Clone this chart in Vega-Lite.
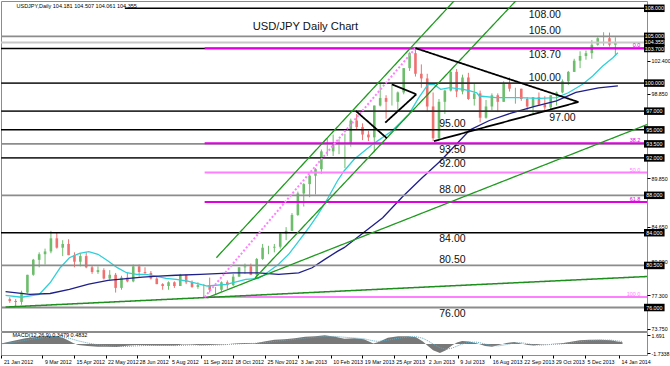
{
"$schema":"https://vega.github.io/schema/vega-lite/v6.json",
"padding":0,
"autosize":{"type":"pad"},
"bounds":"flush",
"background":"#ffffff",
"spacing":1,
"config":{"font":"Liberation Sans","view":{"stroke":"#8c8c8c","strokeWidth":1},"axis":{"grid":false,"labelOverlap":false,"labelFlush":false,"labelFontSize":5.3,"labelColor":"#000000","tickColor":"#000000","tickSize":3,"domain":false,"labelPadding":1}},
"datasets":{
"candles":[
{"d":"2012-01-25","o":76.9,"h":77.1,"l":76.5,"c":76.7},
{"d":"2012-02-01","o":76.7,"h":76.9,"l":76.0,"c":76.6},
{"d":"2012-02-08","o":76.6,"h":77.8,"l":76.3,"c":77.6},
{"d":"2012-02-15","o":77.6,"h":79.5,"l":77.5,"c":79.5},
{"d":"2012-02-22","o":79.5,"h":81.2,"l":79.4,"c":81.1},
{"d":"2012-02-29","o":81.1,"h":81.9,"l":80.3,"c":81.7},
{"d":"2012-03-07","o":81.7,"h":82.3,"l":80.6,"c":82.0},
{"d":"2012-03-14","o":82.0,"h":84.2,"l":81.8,"c":83.4},
{"d":"2012-03-21","o":83.4,"h":84.0,"l":82.3,"c":82.4},
{"d":"2012-03-28","o":82.4,"h":83.2,"l":81.5,"c":82.8},
{"d":"2012-04-04","o":82.8,"h":83.3,"l":81.6,"c":81.6},
{"d":"2012-04-11","o":81.6,"h":81.9,"l":80.3,"c":80.9},
{"d":"2012-04-18","o":80.9,"h":81.8,"l":80.4,"c":81.5},
{"d":"2012-04-25","o":81.5,"h":81.9,"l":80.2,"c":80.3},
{"d":"2012-05-02","o":80.3,"h":80.5,"l":79.6,"c":79.8},
{"d":"2012-05-09","o":79.8,"h":80.4,"l":79.6,"c":80.0},
{"d":"2012-05-16","o":80.0,"h":80.2,"l":79.0,"c":79.1},
{"d":"2012-05-23","o":79.1,"h":80.0,"l":78.9,"c":79.5},
{"d":"2012-05-30","o":79.5,"h":79.7,"l":77.6,"c":78.1},
{"d":"2012-06-06","o":78.1,"h":79.4,"l":77.9,"c":79.2},
{"d":"2012-06-13","o":79.2,"h":79.7,"l":78.7,"c":78.8},
{"d":"2012-06-20","o":78.8,"h":80.6,"l":78.7,"c":80.4},
{"d":"2012-06-27","o":80.4,"h":80.6,"l":79.3,"c":79.8},
{"d":"2012-07-04","o":79.8,"h":80.3,"l":79.6,"c":79.7},
{"d":"2012-07-11","o":79.7,"h":79.9,"l":79.0,"c":79.1},
{"d":"2012-07-18","o":79.1,"h":79.3,"l":78.5,"c":78.5},
{"d":"2012-07-25","o":78.5,"h":78.6,"l":77.9,"c":78.3},
{"d":"2012-08-01","o":78.3,"h":78.8,"l":77.9,"c":78.7},
{"d":"2012-08-08","o":78.7,"h":78.8,"l":78.1,"c":78.3},
{"d":"2012-08-15","o":78.3,"h":79.6,"l":78.3,"c":79.5},
{"d":"2012-08-22","o":79.5,"h":79.5,"l":78.5,"c":78.7},
{"d":"2012-08-29","o":78.7,"h":78.9,"l":78.1,"c":78.2},
{"d":"2012-09-05","o":78.2,"h":78.7,"l":78.0,"c":78.4},
{"d":"2012-09-12","o":78.4,"h":78.5,"l":77.1,"c":78.4},
{"d":"2012-09-19","o":78.4,"h":79.2,"l":77.6,"c":77.9},
{"d":"2012-09-26","o":77.9,"h":78.2,"l":77.4,"c":77.9},
{"d":"2012-10-03","o":77.9,"h":78.8,"l":77.7,"c":78.7},
{"d":"2012-10-10","o":78.7,"h":78.9,"l":78.0,"c":78.4},
{"d":"2012-10-17","o":78.4,"h":79.6,"l":78.3,"c":79.3},
{"d":"2012-10-24","o":79.3,"h":80.3,"l":79.3,"c":80.3},
{"d":"2012-10-31","o":80.3,"h":80.7,"l":79.6,"c":80.4},
{"d":"2012-11-07","o":80.4,"h":80.7,"l":79.5,"c":79.5},
{"d":"2012-11-14","o":79.5,"h":81.3,"l":79.1,"c":81.2},
{"d":"2012-11-21","o":81.2,"h":82.8,"l":81.1,"c":82.4},
{"d":"2012-11-28","o":82.4,"h":82.6,"l":81.7,"c":82.4},
{"d":"2012-12-05","o":82.4,"h":82.8,"l":81.9,"c":82.5},
{"d":"2012-12-12","o":82.5,"h":84.0,"l":82.3,"c":83.9},
{"d":"2012-12-19","o":83.9,"h":84.6,"l":83.2,"c":84.2},
{"d":"2012-12-26","o":84.2,"h":86.1,"l":84.2,"c":85.9},
{"d":"2013-01-02","o":85.9,"h":88.4,"l":85.8,"c":88.2},
{"d":"2013-01-09","o":88.2,"h":89.3,"l":86.8,"c":89.2},
{"d":"2013-01-16","o":89.2,"h":90.2,"l":87.8,"c":90.1},
{"d":"2013-01-23","o":90.1,"h":90.9,"l":88.1,"c":90.8},
{"d":"2013-01-30","o":90.8,"h":92.9,"l":90.3,"c":92.7},
{"d":"2013-02-06","o":92.7,"h":94.1,"l":92.2,"c":92.7},
{"d":"2013-02-13","o":92.7,"h":94.5,"l":92.2,"c":93.5},
{"d":"2013-02-20","o":93.5,"h":94.0,"l":92.4,"c":93.5},
{"d":"2013-02-27","o":93.5,"h":94.6,"l":90.9,"c":93.6},
{"d":"2013-03-06","o":93.6,"h":96.2,"l":93.2,"c":96.0},
{"d":"2013-03-13","o":96.0,"h":96.7,"l":95.0,"c":95.3},
{"d":"2013-03-20","o":95.3,"h":95.7,"l":93.9,"c":94.5},
{"d":"2013-03-27","o":94.5,"h":94.9,"l":93.8,"c":94.2},
{"d":"2013-04-03","o":94.2,"h":97.6,"l":92.6,"c":97.6},
{"d":"2013-04-10","o":97.6,"h":99.9,"l":97.5,"c":98.4},
{"d":"2013-04-17","o":98.4,"h":98.7,"l":96.2,"c":98.0},
{"d":"2013-04-24","o":98.0,"h":99.9,"l":97.6,"c":98.0},
{"d":"2013-05-01","o":98.0,"h":99.1,"l":97.1,"c":99.0},
{"d":"2013-05-08","o":99.0,"h":101.6,"l":98.8,"c":101.6},
{"d":"2013-05-15","o":101.6,"h":103.3,"l":101.3,"c":103.2},
{"d":"2013-05-22","o":103.2,"h":103.74,"l":100.7,"c":101.0},
{"d":"2013-05-29","o":101.0,"h":102.0,"l":99.5,"c":100.5},
{"d":"2013-06-05","o":100.5,"h":101.0,"l":96.9,"c":97.5},
{"d":"2013-06-12","o":97.5,"h":99.0,"l":93.8,"c":94.1},
{"d":"2013-06-19","o":94.1,"h":98.3,"l":94.0,"c":98.0},
{"d":"2013-06-26","o":98.0,"h":99.3,"l":96.7,"c":99.2},
{"d":"2013-07-03","o":99.2,"h":101.3,"l":99.1,"c":101.2},
{"d":"2013-07-10","o":101.2,"h":101.5,"l":98.5,"c":99.1},
{"d":"2013-07-17","o":99.1,"h":100.9,"l":98.8,"c":100.6},
{"d":"2013-07-24","o":100.6,"h":101.1,"l":98.2,"c":98.3},
{"d":"2013-07-31","o":98.3,"h":100.0,"l":97.6,"c":98.9},
{"d":"2013-08-07","o":98.9,"h":99.2,"l":95.8,"c":96.3},
{"d":"2013-08-14","o":96.3,"h":98.2,"l":96.2,"c":97.5},
{"d":"2013-08-21","o":97.5,"h":98.9,"l":97.1,"c":98.7},
{"d":"2013-08-28","o":98.7,"h":98.9,"l":96.9,"c":98.0},
{"d":"2013-09-04","o":98.0,"h":100.2,"l":98.0,"c":99.9},
{"d":"2013-09-11","o":99.9,"h":100.6,"l":99.1,"c":99.4},
{"d":"2013-09-18","o":99.4,"h":99.5,"l":97.8,"c":99.4},
{"d":"2013-09-25","o":99.4,"h":99.4,"l":98.1,"c":98.3},
{"d":"2013-10-02","o":98.3,"h":98.5,"l":97.1,"c":97.5},
{"d":"2013-10-09","o":97.5,"h":98.5,"l":96.6,"c":98.5},
{"d":"2013-10-16","o":98.5,"h":99.0,"l":97.6,"c":97.7},
{"d":"2013-10-23","o":97.7,"h":98.6,"l":96.9,"c":97.4},
{"d":"2013-10-30","o":97.4,"h":98.7,"l":97.2,"c":98.7},
{"d":"2013-11-06","o":98.7,"h":99.1,"l":97.6,"c":99.0},
{"d":"2013-11-13","o":99.0,"h":100.4,"l":98.9,"c":100.2},
{"d":"2013-11-20","o":100.2,"h":101.3,"l":99.8,"c":101.2},
{"d":"2013-11-27","o":101.2,"h":102.6,"l":101.2,"c":102.4},
{"d":"2013-12-04","o":102.4,"h":103.4,"l":101.6,"c":102.9},
{"d":"2013-12-11","o":102.9,"h":103.5,"l":102.5,"c":103.2},
{"d":"2013-12-18","o":103.2,"h":104.6,"l":102.6,"c":104.1},
{"d":"2013-12-25","o":104.1,"h":104.9,"l":104.0,"c":104.8},
{"d":"2014-01-01","o":104.8,"h":105.44,"l":104.0,"c":104.8},
{"d":"2014-01-08","o":104.8,"h":105.4,"l":103.9,"c":104.1},
{"d":"2014-01-15","o":104.1,"h":104.9,"l":102.9,"c":104.36}
],
"ma":[
{"s":"fast","d":"2012-01-20","v":77.3},{"s":"fast","d":"2012-02-08","v":77.1},{"s":"fast","d":"2012-02-29","v":77.4},{"s":"fast","d":"2012-03-13","v":78.65},{"s":"fast","d":"2012-03-25","v":80.26},{"s":"fast","d":"2012-04-05","v":81.33},{"s":"fast","d":"2012-04-17","v":81.8},{"s":"fast","d":"2012-04-28","v":81.97},{"s":"fast","d":"2012-05-09","v":81.69},{"s":"fast","d":"2012-05-21","v":80.97},{"s":"fast","d":"2012-06-01","v":80.26},{"s":"fast","d":"2012-06-12","v":79.72},{"s":"fast","d":"2012-06-24","v":79.55},{"s":"fast","d":"2012-07-05","v":79.55},{"s":"fast","d":"2012-07-17","v":79.37},{"s":"fast","d":"2012-07-29","v":79.12},{"s":"fast","d":"2012-08-10","v":79.01},{"s":"fast","d":"2012-08-24","v":78.83},{"s":"fast","d":"2012-09-16","v":78.3},{"s":"fast","d":"2012-10-09","v":78.48},{"s":"fast","d":"2012-11-01","v":79.01},{"s":"fast","d":"2012-11-16","v":79.12},{"s":"fast","d":"2012-11-24","v":79.55},{"s":"fast","d":"2012-12-10","v":80.62},{"s":"fast","d":"2012-12-22","v":81.69},{"s":"fast","d":"2013-01-03","v":83.11},{"s":"fast","d":"2013-01-15","v":84.53},{"s":"fast","d":"2013-01-26","v":85.97},{"s":"fast","d":"2013-02-07","v":87.74},{"s":"fast","d":"2013-02-18","v":89.53},{"s":"fast","d":"2013-02-26","v":90.6},{"s":"fast","d":"2013-03-10","v":91.85},{"s":"fast","d":"2013-04-01","v":93.45},{"s":"fast","d":"2013-04-24","v":94.88},{"s":"fast","d":"2013-05-14","v":96.66},{"s":"fast","d":"2013-05-26","v":98.44},{"s":"fast","d":"2013-06-06","v":99.87},{"s":"fast","d":"2013-06-13","v":99.87},{"s":"fast","d":"2013-06-21","v":99.34},{"s":"fast","d":"2013-07-02","v":99.51},{"s":"fast","d":"2013-07-18","v":99.34},{"s":"fast","d":"2013-07-26","v":99.16},{"s":"fast","d":"2013-08-03","v":98.97},{"s":"fast","d":"2013-08-06","v":98.62},{"s":"fast","d":"2013-08-26","v":98.44},{"s":"fast","d":"2013-09-21","v":98.44},{"s":"fast","d":"2013-10-17","v":98.37},{"s":"fast","d":"2013-11-06","v":98.44},{"s":"fast","d":"2013-11-20","v":98.97},{"s":"fast","d":"2013-12-07","v":99.87},{"s":"fast","d":"2013-12-19","v":100.76},{"s":"fast","d":"2013-12-31","v":101.83},{"s":"fast","d":"2014-01-12","v":102.72},{"s":"fast","d":"2014-01-18","v":103.25},
{"s":"slow","d":"2012-01-20","v":77.7},{"s":"slow","d":"2012-02-18","v":77.4},{"s":"slow","d":"2012-03-13","v":77.5},{"s":"slow","d":"2012-04-05","v":77.95},{"s":"slow","d":"2012-04-28","v":78.5},{"s":"slow","d":"2012-05-21","v":78.9},{"s":"slow","d":"2012-06-12","v":79.1},{"s":"slow","d":"2012-07-01","v":79.25},{"s":"slow","d":"2012-07-20","v":79.35},{"s":"slow","d":"2012-08-10","v":79.45},{"s":"slow","d":"2012-09-08","v":79.55},{"s":"slow","d":"2012-10-17","v":79.7},{"s":"slow","d":"2012-11-16","v":79.7},{"s":"slow","d":"2012-12-10","v":79.55},{"s":"slow","d":"2013-01-03","v":79.7},{"s":"slow","d":"2013-01-19","v":80.25},{"s":"slow","d":"2013-02-03","v":81.15},{"s":"slow","d":"2013-02-18","v":82.0},{"s":"slow","d":"2013-02-26","v":82.4},{"s":"slow","d":"2013-03-21","v":84.0},{"s":"slow","d":"2013-04-13","v":85.6},{"s":"slow","d":"2013-05-06","v":87.8},{"s":"slow","d":"2013-05-29","v":89.8},{"s":"slow","d":"2013-06-21","v":91.7},{"s":"slow","d":"2013-07-08","v":93.3},{"s":"slow","d":"2013-07-26","v":95.0},{"s":"slow","d":"2013-08-18","v":96.0},{"s":"slow","d":"2013-09-13","v":96.8},{"s":"slow","d":"2013-10-11","v":97.5},{"s":"slow","d":"2013-11-06","v":98.1},{"s":"slow","d":"2013-11-29","v":99.0},{"s":"slow","d":"2013-12-26","v":99.5},{"s":"slow","d":"2014-01-18","v":99.7}
],
"levels":[
{"v":108,"k":"black","from":"2012-06-10","lab":"108.000"},
{"v":105,"k":"gray","from":"2012-01-01","lab":"105.000"},
{"v":104.355,"k":"light","from":"2012-01-01","lab":"104.355"},
{"v":103.7,"k":"black","from":"2012-01-01","lab":"103.700"},
{"v":100,"k":"dark","from":"2012-01-01","lab":"100.000"},
{"v":97,"k":"dark","from":"2012-01-01","lab":"97.000"},
{"v":95,"k":"black","from":"2012-01-01","lab":"95.000"},
{"v":93.5,"k":"gray","from":"2012-01-01","lab":"93.500"},
{"v":92,"k":"dark","from":"2012-01-01","lab":"92.000"},
{"v":88,"k":"gray","from":"2012-01-01","lab":"88.000"},
{"v":84,"k":"black","from":"2012-01-01","lab":"84.000"},
{"v":80.5,"k":"gray","from":"2012-01-01","lab":"80.500"},
{"v":76,"k":"gray","from":"2012-01-01","lab":"76.000"}
],
"fib":[
{"v":103.74,"t":"0.0","k":"m"},
{"v":93.57,"t":"38.2","k":"m"},
{"v":90.43,"t":"50.0","k":"p"},
{"v":87.29,"t":"61.8","k":"m"},
{"v":77.12,"t":"100.0","k":"p"}
],
"trends":[
{"id":"up","k":"g","d":"2012-09-27","v":81.33},{"id":"up","k":"g","d":"2013-08-06","v":111.7},
{"id":"lo","k":"g","d":"2012-11-12","v":79.16},{"id":"lo","k":"g","d":"2013-10-14","v":111.23},
{"id":"s1","k":"g","d":"2012-09-16","v":77.05},{"id":"s1","k":"g","d":"2014-03-06","v":96.0},
{"id":"s0","k":"g2","d":"2012-01-20","v":76.05},{"id":"s0","k":"g2","d":"2014-03-06","v":79.37},
{"id":"fl","k":"p","d":"2012-09-13","v":77.12},{"id":"fl","k":"p","d":"2013-05-22","v":103.74},
{"id":"tu","k":"b","d":"2013-05-22","v":103.74},{"id":"tu","k":"b","d":"2013-12-02","v":97.98},
{"id":"tl","k":"b","d":"2013-06-13","v":93.8},{"id":"tl","k":"b","d":"2013-12-02","v":97.98},
{"id":"f1","k":"b","d":"2013-03-12","v":97.02},{"id":"f1","k":"b","d":"2013-04-18","v":94.1},
{"id":"f2a","k":"b","d":"2013-04-24","v":99.87},{"id":"f2a","k":"b","d":"2013-05-23","v":98.8},
{"id":"f2b","k":"b","d":"2013-04-16","v":95.77},{"id":"f2b","k":"b","d":"2013-05-23","v":98.8}
],
"labels":[
{"t":"108.00","v":108,"d":"2013-10-23","p":"below"},
{"t":"105.00","v":105,"d":"2013-10-23","p":"above"},
{"t":"103.70","v":103.7,"d":"2013-10-23","p":"below"},
{"t":"100.00","v":100,"d":"2013-10-23","p":"above"},
{"t":"97.00","v":97,"d":"2013-11-13","p":"below"},
{"t":"95.00","v":95,"d":"2013-07-05","p":"above"},
{"t":"93.50","v":93.5,"d":"2013-07-05","p":"below"},
{"t":"92.00","v":92,"d":"2013-07-05","p":"below"},
{"t":"88.00","v":88,"d":"2013-07-05","p":"above"},
{"t":"84.00","v":84,"d":"2013-07-05","p":"below"},
{"t":"80.50","v":80.5,"d":"2013-07-05","p":"above"},
{"t":"76.00","v":76,"d":"2013-07-05","p":"below"}
],
"notes":[
{"t":"USD/JPY Daily Chart","d":"2013-01-11","v":105.95,"k":"title"},
{"t":"USDJPY,Daily  104.181 104.507 104.061 104.355","d":"2012-02-02","v":108.28,"k":"head"}
],
"mnote":[
{"t":"MACD(12,26,9) 0.3479 0.4832","d":"2012-02-03","m":1.75}
],
"macd":[
{"d":"2012-01-20","m":0.1,"s":0.0},{"d":"2012-02-03","m":0.6,"s":0.3},{"d":"2012-02-18","m":1.1,"s":0.7},{"d":"2012-03-04","m":1.4,"s":1.1},{"d":"2012-03-16","m":1.55,"s":1.35},{"d":"2012-03-25","m":1.5,"s":1.45},{"d":"2012-04-02","m":1.2,"s":1.35},{"d":"2012-04-08","m":0.7,"s":1.15},{"d":"2012-04-14","m":0.2,"s":0.9},{"d":"2012-04-20","m":-0.2,"s":0.6},{"d":"2012-05-01","m":-0.4,"s":0.2},{"d":"2012-05-13","m":-0.5,"s":-0.15},{"d":"2012-05-24","m":-0.5,"s":-0.35},{"d":"2012-06-04","m":-0.55,"s":-0.45},{"d":"2012-06-16","m":-0.35,"s":-0.45},{"d":"2012-06-27","m":-0.2,"s":-0.35},{"d":"2012-07-09","m":-0.25,"s":-0.28},{"d":"2012-07-20","m":-0.3,"s":-0.27},{"d":"2012-08-01","m":-0.3,"s":-0.28},{"d":"2012-08-12","m":-0.3,"s":-0.3},{"d":"2012-08-20","m":-0.1,"s":-0.25},{"d":"2012-08-30","m":-0.1,"s":-0.17},{"d":"2012-09-10","m":-0.25,"s":-0.18},{"d":"2012-09-21","m":-0.2,"s":-0.2},{"d":"2012-10-03","m":-0.1,"s":-0.16},{"d":"2012-10-14","m":0.0,"s":-0.08},{"d":"2012-10-22","m":0.1,"s":0.0},{"d":"2012-11-01","m":0.2,"s":0.1},{"d":"2012-11-12","m":0.1,"s":0.12},{"d":"2012-11-24","m":0.5,"s":0.25},{"d":"2012-12-06","m":0.8,"s":0.5},{"d":"2012-12-18","m":0.9,"s":0.7},{"d":"2012-12-30","m":1.1,"s":0.9},{"d":"2013-01-11","m":1.4,"s":1.1},{"d":"2013-01-23","m":1.5,"s":1.3},{"d":"2013-02-03","m":1.69,"s":1.45},{"d":"2013-02-15","m":1.4,"s":1.45},{"d":"2013-02-26","m":1.0,"s":1.3},{"d":"2013-03-10","m":1.1,"s":1.15},{"d":"2013-03-21","m":0.9,"s":1.0},{"d":"2013-04-01","m":0.1,"s":0.6},{"d":"2013-04-07","m":0.4,"s":0.5},{"d":"2013-04-18","m":1.2,"s":0.75},{"d":"2013-04-30","m":1.5,"s":1.1},{"d":"2013-05-12","m":1.5,"s":1.35},{"d":"2013-05-21","m":1.3,"s":1.4},{"d":"2013-05-29","m":0.5,"s":1.1},{"d":"2013-06-04","m":-0.4,"s":0.6},{"d":"2013-06-10","m":-1.2,"s":0.0},{"d":"2013-06-18","m":-1.73,"s":-0.7},{"d":"2013-06-25","m":-1.2,"s":-1.0},{"d":"2013-07-02","m":-0.3,"s":-0.8},{"d":"2013-07-08","m":0.3,"s":-0.4},{"d":"2013-07-14","m":0.6,"s":0.0},{"d":"2013-07-22","m":0.5,"s":0.35},{"d":"2013-08-01","m":0.1,"s":0.35},{"d":"2013-08-10","m":-0.4,"s":0.0},{"d":"2013-08-18","m":-0.5,"s":-0.3},{"d":"2013-08-26","m":-0.2,"s":-0.35},{"d":"2013-09-04","m":0.2,"s":-0.1},{"d":"2013-09-13","m":0.4,"s":0.2},{"d":"2013-09-21","m":0.1,"s":0.25},{"d":"2013-09-29","m":-0.2,"s":0.05},{"d":"2013-10-06","m":-0.3,"s":-0.15},{"d":"2013-10-14","m":-0.1,"s":-0.2},{"d":"2013-10-25","m":0.0,"s":-0.1},{"d":"2013-11-06","m":0.1,"s":0.0},{"d":"2013-11-17","m":0.4,"s":0.2},{"d":"2013-11-29","m":0.7,"s":0.45},{"d":"2013-12-10","m":0.8,"s":0.65},{"d":"2013-12-23","m":0.8,"s":0.75},{"d":"2014-01-04","m":0.7,"s":0.75},{"d":"2014-01-12","m":0.5,"s":0.6},{"d":"2014-01-18","m":0.35,"s":0.48}
]
},
"vconcat":[
{
"width":646,"height":330,
"resolve":{"scale":{"color":"independent","strokeWidth":"independent","strokeDash":"independent"}},
"layer":[
{"data":{"name":"candles"},"mark":{"type":"rule","strokeWidth":1},
 "encoding":{
  "x":{"field":"d","type":"temporal","axis":null,"scale":{"type":"utc","nice":false,"domain":[1327060800000,1392483600000]}},
  "y":{"field":"l","type":"quantitative","title":null,"scale":{"domain":[73.49,108.78],"nice":false,"zero":false},
   "axis":{"orient":"right","title":null,"values":[105.95,102.4,100.6,98.85,91.85,89.85,86.25,84.65,82.7,80.9,79.1,77.3,75.5,73.75],"format":".3f","domain":false,"grid":false,"tickSize":3,"tickColor":"#000000","labelFontSize":5.3,"labelColor":"#000000","labelPadding":1,"labelOverlap":false}},
  "y2":{"field":"h"},
  "color":{"condition":{"test":"datum.c >= datum.o","value":"#6dbd6d"},"value":"#f07070"}
 }},
{"data":{"name":"candles"},"mark":{"type":"bar","width":2.6},
 "encoding":{
  "x":{"field":"d","type":"temporal","axis":null,"scale":{"type":"utc","nice":false,"domain":[1327060800000,1392483600000]}},
  "y":{"field":"o","type":"quantitative","title":null,"scale":{"domain":[73.49,108.78],"nice":false,"zero":false}},
  "y2":{"field":"c"},
  "color":{"condition":{"test":"datum.c >= datum.o","value":"#6dbd6d"},"value":"#f07070"}
 }},
{"data":{"name":"ma"},"mark":{"type":"line","strokeWidth":1.3,"clip":true},
 "encoding":{
  "x":{"field":"d","type":"temporal","axis":null,"scale":{"type":"utc","nice":false,"domain":[1327060800000,1392483600000]}},
  "y":{"field":"v","type":"quantitative","title":null,"scale":{"domain":[73.49,108.78],"nice":false,"zero":false}},
  "color":{"field":"s","type":"nominal","legend":null,"scale":{"domain":["fast","slow"],"range":["#2fd0d8","#1f1f8a"]}}
 }},
{"data":{"name":"levels"},"mark":{"type":"rule","clip":true},
 "encoding":{
  "x":{"field":"from","type":"temporal","axis":null,"scale":{"type":"utc","nice":false,"domain":[1327060800000,1392483600000]}},
  "x2":{"datum":{"year":2014,"month":3,"date":31,"utc":true}},
  "y":{"field":"v","type":"quantitative","title":null,"scale":{"domain":[73.49,108.78],"nice":false,"zero":false}},
  "color":{"field":"k","type":"nominal","legend":null,"scale":{"domain":["black","dark","gray","light"],"range":["#000000","#303030","#8c8c8c","#c8c8c8"]}},
  "strokeWidth":{"field":"k","type":"nominal","legend":null,"scale":{"domain":["black","dark","gray","light"],"range":[1.5,2,3,1]}}
 }},
{"data":{"name":"fib"},"mark":{"type":"rule","clip":true,"strokeWidth":2},
 "encoding":{
  "x":{"datum":{"year":2012,"month":9,"date":13,"utc":true},"type":"temporal","axis":null,"scale":{"type":"utc","nice":false,"domain":[1327060800000,1392483600000]}},
  "x2":{"datum":{"year":2014,"month":3,"date":31,"utc":true}},
  "y":{"field":"v","type":"quantitative","title":null,"scale":{"domain":[73.49,108.78],"nice":false,"zero":false}},
  "color":{"field":"k","type":"nominal","legend":null,"scale":{"domain":["m","p"],"range":["#e000e0","#ff80ff"]}}
 }},
{"data":{"name":"fib"},"mark":{"type":"text","fontSize":5.5,"align":"right","baseline":"bottom","dx":-1},
 "encoding":{
  "x":{"datum":{"year":2014,"month":2,"date":15,"utc":true},"type":"temporal","axis":null,"scale":{"type":"utc","nice":false,"domain":[1327060800000,1392483600000]}},
  "y":{"field":"v","type":"quantitative","title":null,"scale":{"domain":[73.49,108.78],"nice":false,"zero":false}},
  "text":{"field":"t"},
  "color":{"field":"k","type":"nominal","legend":null,"scale":{"domain":["m","p"],"range":["#e000e0","#ff80ff"]}}
 }},
{"data":{"name":"trends"},"mark":{"type":"line","clip":true},
 "encoding":{
  "x":{"field":"d","type":"temporal","axis":null,"scale":{"type":"utc","nice":false,"domain":[1327060800000,1392483600000]}},
  "y":{"field":"v","type":"quantitative","title":null,"scale":{"domain":[73.49,108.78],"nice":false,"zero":false}},
  "detail":{"field":"id"},
  "color":{"field":"k","type":"nominal","legend":null,"scale":{"domain":["g","g2","b","p"],"range":["#1e9a1e","#1e8f1e","#000000","#ff80ff"]}},
  "strokeWidth":{"field":"k","type":"nominal","legend":null,"scale":{"domain":["g","g2","b","p"],"range":[1.3,2,1.2,1]}},
  "strokeDash":{"field":"k","type":"nominal","legend":null,"scale":{"domain":["g","g2","b","p"],"range":[[1,0],[1,0],[1,0],[2,2]]}}
 }},
{"data":{"name":"labels"},"transform":[{"filter":"datum.p == 'above'"}],"mark":{"type":"text","fontSize":10.5,"align":"center","baseline":"middle","dy":-5.5,"color":"#111111"},
 "encoding":{
  "x":{"field":"d","type":"temporal","axis":null,"scale":{"type":"utc","nice":false,"domain":[1327060800000,1392483600000]}},
  "y":{"field":"v","type":"quantitative","title":null,"scale":{"domain":[73.49,108.78],"nice":false,"zero":false}},
  "text":{"field":"t"}
 }},
{"data":{"name":"labels"},"transform":[{"filter":"datum.p == 'below'"}],"mark":{"type":"text","fontSize":10.5,"align":"center","baseline":"middle","dy":6.5,"color":"#111111"},
 "encoding":{
  "x":{"field":"d","type":"temporal","axis":null,"scale":{"type":"utc","nice":false,"domain":[1327060800000,1392483600000]}},
  "y":{"field":"v","type":"quantitative","title":null,"scale":{"domain":[73.49,108.78],"nice":false,"zero":false}},
  "text":{"field":"t"}
 }},
{"data":{"name":"notes"},"transform":[{"filter":"datum.k == 'title'"}],"mark":{"type":"text","baseline":"middle","align":"center","fontSize":11.2,"color":"#111111"},
 "encoding":{
  "x":{"field":"d","type":"temporal","axis":null,"scale":{"type":"utc","nice":false,"domain":[1327060800000,1392483600000]}},
  "y":{"field":"v","type":"quantitative","title":null,"scale":{"domain":[73.49,108.78],"nice":false,"zero":false}},
  "text":{"field":"t"}
 }},
{"data":{"name":"notes"},"transform":[{"filter":"datum.k == 'head'"}],"mark":{"type":"text","baseline":"middle","align":"left","fontSize":5.5,"color":"#000000"},
 "encoding":{
  "x":{"field":"d","type":"temporal","axis":null,"scale":{"type":"utc","nice":false,"domain":[1327060800000,1392483600000]}},
  "y":{"field":"v","type":"quantitative","title":null,"scale":{"domain":[73.49,108.78],"nice":false,"zero":false}},
  "text":{"field":"t"}
 }},
{"data":{"name":"levels"},"mark":{"type":"rule","strokeWidth":7.5,"color":"#000000","clip":false},
 "encoding":{
  "x":{"datum":{"year":2014,"month":2,"date":18,"hours":2,"utc":true},"type":"temporal","axis":null,"scale":{"type":"utc","nice":false,"domain":[1327060800000,1392483600000]}},
  "x2":{"datum":{"year":2014,"month":3,"date":14,"hours":14,"utc":true}},
  "y":{"field":"v","type":"quantitative","title":null,"scale":{"domain":[73.49,108.78],"nice":false,"zero":false}}
 }},
{"data":{"name":"levels"},"mark":{"type":"text","fontSize":5.3,"align":"center","baseline":"middle","color":"#ffffff"},
 "encoding":{
  "x":{"datum":{"year":2014,"month":3,"date":2,"hours":10,"utc":true},"type":"temporal","axis":null,"scale":{"type":"utc","nice":false,"domain":[1327060800000,1392483600000]}},
  "y":{"field":"v","type":"quantitative","title":null,"scale":{"domain":[73.49,108.78],"nice":false,"zero":false}},
  "text":{"field":"lab"}
 }}
]
},
{
"width":646,"height":23,
"encoding":{
  "x":{"field":"d","type":"temporal","title":null,"scale":{"type":"utc","nice":false,"domain":[1327060800000,1392483600000]},
   "axis":{"orient":"bottom","title":null,"values":[1327104000000,1331251200000,1334448000000,1337644800000,1340841600000,1344124800000,1347321600000,1350518400000,1353801600000,1357171200000,1360454400000,1363651200000,1366848000000,1370131200000,1373328000000,1376611200000,1379808000000,1383004800000,1386201600000,1389657600000],
   "format":"%-d %b %Y","domain":false,"grid":false,"tickSize":3,"tickColor":"#000000","labelFontSize":5.3,"labelColor":"#000000","labelAlign":"left","labelOffset":2,"labelPadding":1,"labelFlush":false,"labelOverlap":false}}
},
"layer":[
{"data":{"name":"macd"},"mark":{"type":"area","color":"#787878","interpolate":"linear","clip":true},
 "encoding":{
  "y":{"field":"m","type":"quantitative","title":null,"scale":{"domain":[-2.1,2.3],"nice":false,"zero":false},
   "axis":{"orient":"right","title":null,"values":[1.691,0,-1.7338],"labelExpr":"datum.value == 0 ? '0.00' : '' + datum.value","domain":false,"grid":false,"tickSize":3,"tickColor":"#000000","labelFontSize":5.3,"labelColor":"#000000","labelPadding":1,"labelOverlap":false}},
  "y2":{"datum":0}
 }},
{"data":{"name":"macd"},"mark":{"type":"line","color":"#5fa8c0","strokeWidth":1,"strokeDash":[1,1],"clip":true},
 "encoding":{
  "y":{"field":"s","type":"quantitative","title":null,"scale":{"domain":[-2.1,2.3],"nice":false,"zero":false}}
 }},
{"data":{"name":"mnote"},"mark":{"type":"text","fontSize":5.5,"align":"left","baseline":"middle","color":"#000000"},
 "encoding":{
  "y":{"field":"m","type":"quantitative","title":null,"scale":{"domain":[-2.1,2.3],"nice":false,"zero":false}},
  "text":{"field":"t"}
 }}
]
}
]
}
